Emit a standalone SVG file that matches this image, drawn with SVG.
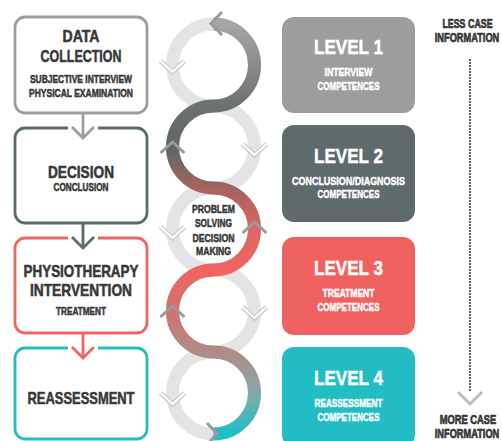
<svg xmlns="http://www.w3.org/2000/svg" xmlns:xlink="http://www.w3.org/1999/xlink" width="502" height="441" viewBox="0 0 502 441">
  <style>
    text { font-family: "Liberation Sans", Arial, sans-serif; font-weight: bold; text-anchor: middle; }
    .dark { fill: #383838; stroke: #383838; stroke-width: 0.55; }
    .light { fill: #ffffff; stroke: #ffffff; stroke-width: 0.45; }
    .lg { font-size: 17px; }
    .sm { font-size: 11.5px; }
    .lvl { font-size: 21px; }
    .lvs { font-size: 11px; }
    .mid { font-size: 11.5px; }
    .side { font-size: 12.5px; stroke-width: 0.7; }
    .box { fill: #ffffff; stroke-width: 2.8; }
    .ring { fill: none; stroke: #e4e4e4; stroke-width: 13; }
    .conn { fill: none; stroke-width: 2.8; }
    .vo { fill: none; stroke: #cfcfcf; stroke-width: 5; stroke-linejoin: miter; }
    .vi { fill: none; stroke: #ffffff; stroke-width: 2; stroke-linejoin: miter; }
    .up { fill: none; stroke: #9a9a9a; stroke-width: 3; }
  </style>
  <defs>
    <linearGradient id="flow" gradientUnits="userSpaceOnUse" x1="0" y1="24" x2="0" y2="434">
      <stop offset="0" stop-color="#a6a6a6"/>
      <stop offset="0.2" stop-color="#6d7071"/>
      <stop offset="0.3" stop-color="#5f6667"/>
      <stop offset="0.4" stop-color="#a4625f"/>
      <stop offset="0.5" stop-color="#dc6662"/>
      <stop offset="0.6" stop-color="#f06461"/>
      <stop offset="0.7" stop-color="#d0736e"/>
      <stop offset="0.8" stop-color="#b08c86"/>
      <stop offset="0.9" stop-color="#84aaa7"/>
      <stop offset="1" stop-color="#1dbfc5"/>
    </linearGradient>
    <polyline id="vdown" points="-12,-5 0,6 12,-5"/>
    <polyline id="vup" points="-12,6 0,-5 12,6"/>
  </defs>

  <rect width="502" height="441" fill="#ffffff"/>

  <!-- process steps -->
  <g id="step-data-collection">
    <rect class="box" x="15" y="17" width="132" height="96" rx="10" stroke="#9d9d9d"/>
    <text class="dark lg" x="81" y="42" textLength="37" lengthAdjust="spacingAndGlyphs">DATA</text>
    <text class="dark lg" x="81" y="62" textLength="81" lengthAdjust="spacingAndGlyphs">COLLECTION</text>
    <text class="dark sm" x="81" y="83" textLength="102" lengthAdjust="spacingAndGlyphs">SUBJECTIVE INTERVIEW</text>
    <text class="dark sm" x="81" y="97" textLength="104" lengthAdjust="spacingAndGlyphs">PHYSICAL EXAMINATION</text>
  </g>
  <g id="step-decision">
    <path class="box" stroke="#5b6b6e" d="M98,128 H137 A10,10 0 0 1 147,138 V213 A10,10 0 0 1 137,223 H25 A10,10 0 0 1 15,213 V138 A10,10 0 0 1 25,128 H68"/>
    <text class="dark lg" x="81" y="178" textLength="66" lengthAdjust="spacingAndGlyphs">DECISION</text>
    <text class="dark sm" x="81" y="191" textLength="55" lengthAdjust="spacingAndGlyphs">CONCLUSION</text>
  </g>
  <g id="step-intervention">
    <path class="box" stroke="#ef6562" d="M98,238 H137 A10,10 0 0 1 147,248 V323 A10,10 0 0 1 137,333 H25 A10,10 0 0 1 15,323 V248 A10,10 0 0 1 25,238 H68"/>
    <text class="dark lg" x="81" y="277" textLength="115" lengthAdjust="spacingAndGlyphs">PHYSIOTHERAPY</text>
    <text class="dark lg" x="81" y="296" textLength="102" lengthAdjust="spacingAndGlyphs">INTERVENTION</text>
    <text class="dark sm" x="81" y="315" textLength="50" lengthAdjust="spacingAndGlyphs">TREATMENT</text>
  </g>
  <g id="step-reassessment">
    <path class="box" stroke="#26bcc4" d="M98,348 H137 A10,10 0 0 1 147,358 V429 A10,10 0 0 1 137,439 H25 A10,10 0 0 1 15,429 V358 A10,10 0 0 1 25,348 H68"/>
    <text class="dark lg" x="81" y="404" textLength="107" lengthAdjust="spacingAndGlyphs">REASSESSMENT</text>
  </g>

  <!-- arrows between steps -->
  <g id="connectors">
    <g stroke="#9d9d9d" class="conn">
      <line x1="83" y1="113" x2="83" y2="137"/>
      <polyline points="72,127 83,138 94,127"/>
    </g>
    <g stroke="#5b6b6e" class="conn">
      <line x1="83" y1="223" x2="83" y2="247"/>
      <polyline points="72,237 83,248 94,237"/>
    </g>
    <g stroke="#ef6562" class="conn">
      <line x1="83" y1="333" x2="83" y2="357"/>
      <polyline points="72,347 83,358 94,347"/>
    </g>
  </g>

  <!-- reasoning loop -->
  <g id="loop">
    <circle class="ring" cx="213.5" cy="65" r="41"/>
    <circle class="ring" cx="213.5" cy="147" r="41"/>
    <circle class="ring" cx="213.5" cy="229" r="41"/>
    <circle class="ring" cx="213.5" cy="311" r="41"/>
    <circle class="ring" cx="213.5" cy="393" r="41"/>

    <path fill="none" stroke="url(#flow)" stroke-width="13" d="M213.5,434 A41,41 0 0 0 213.5,352 A41,41 0 0 1 213.5,270 A41,41 0 0 0 213.5,188 A41,41 0 0 1 213.5,106 A41,41 0 0 0 213.5,24"/>

    <!-- direction marks on the pale halves -->
    <g>
      <use xlink:href="#vdown" class="vo" x="172.5" y="66"/>
      <use xlink:href="#vdown" class="vi" x="172.5" y="66"/>
      <use xlink:href="#vdown" class="vo" x="254.5" y="149"/>
      <use xlink:href="#vdown" class="vi" x="254.5" y="149"/>
      <use xlink:href="#vdown" class="vo" x="172.5" y="232"/>
      <use xlink:href="#vdown" class="vi" x="172.5" y="232"/>
      <use xlink:href="#vdown" class="vo" x="254.5" y="312"/>
      <use xlink:href="#vdown" class="vi" x="254.5" y="312"/>
      <use xlink:href="#vdown" class="vo" x="172.5" y="398"/>
      <use xlink:href="#vdown" class="vi" x="172.5" y="398"/>
    </g>
    <!-- direction marks on the coloured path -->
    <g>
      <use xlink:href="#vup" class="up" x="172.5" y="147"/>
      <use xlink:href="#vup" class="up" x="254.5" y="227"/>
      <use xlink:href="#vup" class="up" x="172.5" y="311"/>
      <polyline class="up" stroke="#8d8d8d" points="222,12 211,23.5 222,35"/>
      <polyline class="up" points="207,423 217,433.5 208,444"/>
    </g>

    <text class="dark mid" x="213.5" y="213" textLength="43" lengthAdjust="spacingAndGlyphs">PROBLEM</text>
    <text class="dark mid" x="213.5" y="227" textLength="37" lengthAdjust="spacingAndGlyphs">SOLVING</text>
    <text class="dark mid" x="213.5" y="242" textLength="42" lengthAdjust="spacingAndGlyphs">DECISION</text>
    <text class="dark mid" x="213.5" y="255" textLength="35" lengthAdjust="spacingAndGlyphs">MAKING</text>
  </g>

  <!-- competence levels -->
  <g id="level-1">
    <rect x="282" y="17" width="133" height="96" rx="12" fill="#9d9d9d"/>
    <text class="light lvl" x="348.5" y="54" textLength="69" lengthAdjust="spacingAndGlyphs">LEVEL 1</text>
    <text class="light lvs" x="348.5" y="76" textLength="48" lengthAdjust="spacingAndGlyphs">INTERVIEW</text>
    <text class="light lvs" x="348.5" y="90" textLength="62" lengthAdjust="spacingAndGlyphs">COMPETENCES</text>
  </g>
  <g id="level-2">
    <rect x="282" y="125" width="133" height="97" rx="12" fill="#5d6b6c"/>
    <text class="light lvl" x="348.5" y="163" textLength="69" lengthAdjust="spacingAndGlyphs">LEVEL 2</text>
    <text class="light lvs" x="348.5" y="185" textLength="113" lengthAdjust="spacingAndGlyphs">CONCLUSION/DIAGNOSIS</text>
    <text class="light lvs" x="348.5" y="198" textLength="62" lengthAdjust="spacingAndGlyphs">COMPETENCES</text>
  </g>
  <g id="level-3">
    <rect x="282" y="237" width="133" height="98" rx="12" fill="#f0625f"/>
    <text class="light lvl" x="348.5" y="275" textLength="69" lengthAdjust="spacingAndGlyphs">LEVEL 3</text>
    <text class="light lvs" x="348.5" y="297" textLength="52" lengthAdjust="spacingAndGlyphs">TREATMENT</text>
    <text class="light lvs" x="348.5" y="311" textLength="62" lengthAdjust="spacingAndGlyphs">COMPETENCES</text>
  </g>
  <g id="level-4">
    <rect x="282" y="347" width="133" height="100" rx="12" fill="#22bdc4"/>
    <text class="light lvl" x="348.5" y="385" textLength="69" lengthAdjust="spacingAndGlyphs">LEVEL 4</text>
    <text class="light lvs" x="348.5" y="407" textLength="68" lengthAdjust="spacingAndGlyphs">REASSESSMENT</text>
    <text class="light lvs" x="348.5" y="421" textLength="62" lengthAdjust="spacingAndGlyphs">COMPETENCES</text>
  </g>

  <!-- case information scale -->
  <g id="info-scale">
    <text class="dark side" transform="translate(467.5,28) scale(0.71,1)">LESS CASE</text>
    <text class="dark side" transform="translate(467,42) scale(0.74,1)">INFORMATION</text>
    <line x1="470" y1="60" x2="470" y2="391" stroke="#404040" stroke-width="2.2" stroke-dasharray="0 3" stroke-linecap="round"/>
    <polyline points="458,392 470,404 482,392" fill="none" stroke="#bdbdbd" stroke-width="3"/>
    <text class="dark side" transform="translate(468,424) scale(0.75,1)">MORE CASE</text>
    <text class="dark side" transform="translate(467,438) scale(0.74,1)">INFORMATION</text>
  </g>
</svg>
